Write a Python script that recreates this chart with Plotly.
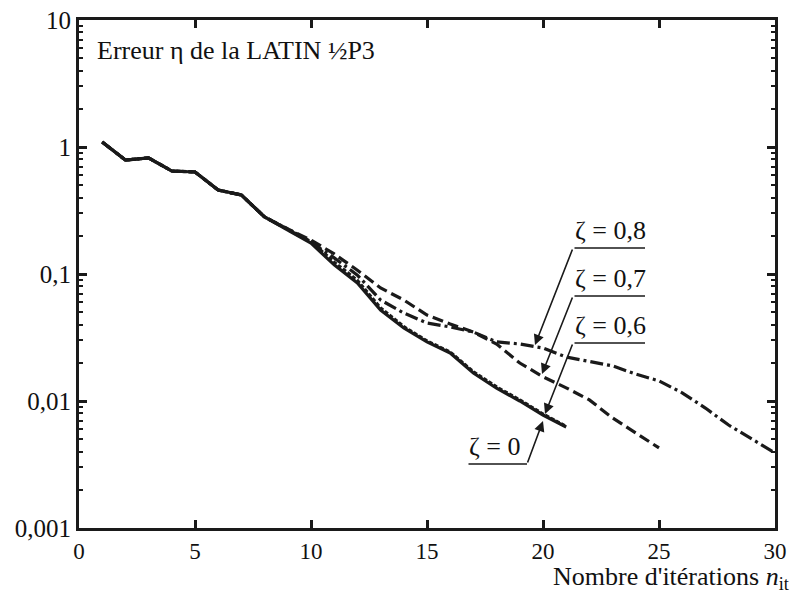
import plotly.graph_objects as go

# ---------------- data ----------------
n_common = [1, 2, 3, 4, 5, 6, 7, 8]
err_common = [1.095, 0.79, 0.82, 0.647, 0.636, 0.458, 0.419, 0.281]

n_z0 = list(range(9, 22))
err_z0 = [0.222, 0.175, 0.118, 0.085, 0.052, 0.0376, 0.0292, 0.0239,
          0.0166, 0.0126, 0.0100, 0.00776, 0.00624]

n_z06 = list(range(9, 22))
err_z06 = [0.226, 0.180, 0.124, 0.089, 0.054, 0.0385, 0.0297, 0.0243,
           0.0170, 0.0129, 0.0102, 0.0079, 0.0063]

n_z07 = list(range(9, 26))
err_z07 = [0.226, 0.185, 0.144, 0.107, 0.0776, 0.0624, 0.0475, 0.0404,
           0.0349, 0.0281, 0.0199, 0.0155, 0.0127, 0.0102, 0.00735,
           0.0056, 0.00427]

n_z08 = list(range(9, 31))
err_z08 = [0.224, 0.178, 0.134, 0.098, 0.0624, 0.0493, 0.0411, 0.0383,
           0.0349, 0.0292, 0.0281, 0.0261, 0.0222, 0.0206, 0.0189, 0.0163,
           0.0144, 0.0116, 0.0088, 0.00647, 0.00502, 0.0039]

x_ticks = [0, 5, 10, 15, 20, 25, 30]
y_tickvals = [0.001, 0.01, 0.1, 1, 10]
y_ticktext = ["0,001", "0,01", "0,1", "1", "10"]

series_labels = ["ζ = 0", "ζ = 0,6", "ζ = 0,7", "ζ = 0,8"]

# ---------------- figure ----------------
FONT = "Times New Roman, Liberation Serif, serif"
W, H = 795, 594
L, R, T, B = 79, 20, 20, 66
PW = W - L - R
PH = H - T - B


def X(px):
    return (px - L) / PW * 30.0


def LY(py):
    return 1.0 - (py - T) / PH * 4.0


def full(nc, ec, n, e):
    return nc + n, ec + e


fig = go.Figure()
styles = [
    (n_z0, err_z0, "solid"),
    (n_z06, err_z06, "4px,2px"),
    (n_z07, err_z07, "11px,5px"),
    (n_z08, err_z08, "13px,4px,3px,4px"),
]
for (n, e, d), name in zip(styles, series_labels):
    xs, ys = full(n_common, err_common, n, e)
    fig.add_trace(go.Scatter(x=xs, y=ys, mode="lines", name=name,
                             line=dict(color="#1a1a1a", width=3.2, dash=d),
                             showlegend=False, hoverinfo="skip"))

annotations = []
line_col = "#1a1a1a"


def seg(x0, y0, x1, y1, head=0):
    annotations.append(dict(x=X(x1), y=LY(y1), ax=X(x0), ay=LY(y0),
                            xref="x", yref="y", axref="x", ayref="y",
                            text="", showarrow=True, arrowhead=head,
                            arrowsize=1.3, arrowwidth=1.6, arrowcolor=line_col,
                            standoff=0, startstandoff=0))


labels_geo = [
    # label, text-left px, underline y, underline x end, tip x, tip y
    ("ζ = 0,8", 573, 248, 645, 535, 345),
    ("ζ = 0,7", 573, 296, 645, 542, 374),
    ("ζ = 0,6", 573, 343, 645, 545, 414),
]
for txt, xl, yu, xr, tx, ty in labels_geo:
    seg(xl, yu, xr, yu)
    seg(xl, yu, tx, ty, head=2)
    annotations.append(dict(x=X(xl), y=LY(yu - 1), xref="x", yref="y",
                            text=txt, showarrow=False, xanchor="left",
                            yanchor="bottom",
                            font=dict(family=FONT, size=26, color="#111")))

# ζ = 0
seg(467, 464, 527, 464)
seg(527, 464, 543, 421, head=2)
annotations.append(dict(x=X(467), y=LY(463), xref="x", yref="y",
                        text=series_labels[0], showarrow=False, xanchor="left",
                        yanchor="bottom",
                        font=dict(family=FONT, size=26, color="#111")))

annotations.append(dict(x=(95 - L) / PW, y=1 - (50 - T) / PH, xref="paper",
                        yref="paper", text="Erreur η de la LATIN ½P3",
                        showarrow=False, xanchor="left", yanchor="middle",
                        font=dict(family=FONT, size=26, color="#111")))

annotations.append(dict(x=(791 - L) / PW, y=-(578 - (T + PH)) / PH,
                        xref="paper", yref="paper",
                        text="Nombre d'itérations <i>n</i><sub>it</sub>",
                        showarrow=False, xanchor="right", yanchor="middle",
                        font=dict(family=FONT, size=26, color="#111")))

fig.update_layout(
    width=W, height=H,
    margin=dict(l=L, r=R, t=T, b=B, autoexpand=False),
    paper_bgcolor="white", plot_bgcolor="white",
    font=dict(family=FONT, size=24, color="#111"),
    annotations=annotations,
    xaxis=dict(range=[0, 30], tickvals=x_ticks, ticks="inside", ticklen=8,
               tickwidth=2.5, tickcolor="#1a1a1a", showline=True,
               linewidth=3, linecolor="#1a1a1a", mirror="ticks",
               showgrid=False, zeroline=False, automargin=False,
               tickfont=dict(family=FONT, size=23, color="#111")),
    yaxis=dict(type="log", range=[-3, 1], tickvals=y_tickvals,
               ticktext=y_ticktext, ticks="inside", ticklen=8, tickwidth=2.5,
               tickcolor="#1a1a1a", showline=True, linewidth=3,
               linecolor="#1a1a1a", mirror="ticks", showgrid=False,
               zeroline=False, automargin=False,
               minor=dict(ticks="inside", ticklen=4, tickwidth=2,
                          tickcolor="#1a1a1a", dtick="D1", showgrid=False),
               tickfont=dict(family=FONT, size=25, color="#111")),
)

fig.write_html(
    "out.html",
    config={"displayModeBar": False},
    post_script="document.body.style.margin='0';"
                "document.body.style.overflow='hidden';",
)
